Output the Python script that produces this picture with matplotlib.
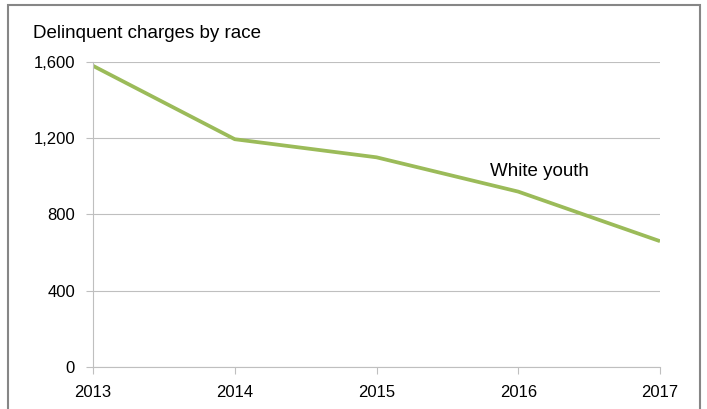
import matplotlib.pyplot as plt
from matplotlib.patches import Rectangle
from matplotlib.ticker import FuncFormatter

years = [2013, 2014, 2015, 2016, 2017]
white_youth = [1580, 1195, 1100, 920, 660]
y_ticks = [0, 400, 800, 1200, 1600]

plt.rcParams['font.family'] = ['Liberation Sans', 'DejaVu Sans']

fig = plt.figure(figsize=(7.07, 4.09), dpi=100)
ax = fig.add_axes([93 / 707, 42 / 409, 567 / 707, 305 / 409])

# outer chart frame
fig.patches.append(Rectangle((8 / 707, -0.05), 692 / 707, 1.05 - 5 / 409,
                             transform=fig.transFigure, fill=False,
                             edgecolor='#868686', linewidth=1.5))

grid_c = '#BFBFBF'
ax.plot(years, white_youth, color='#9BBB59', linewidth=2.7, solid_capstyle='butt')
ax.text(2016.15, 1023, 'White youth', fontsize=13.5, ha='center', va='center', color='black')

ax.set_xlim(2013, 2017)
ax.set_ylim(0, 1600)
ax.set_xticks(years)
ax.set_yticks(y_ticks)
ax.yaxis.set_major_formatter(FuncFormatter(lambda v, p: f'{int(v):,}'))
ax.grid(axis='y', color=grid_c, linewidth=0.8)
ax.set_axisbelow(True)
for s in ['top', 'right']:
    ax.spines[s].set_visible(False)
for s in ['left', 'bottom']:
    ax.spines[s].set_color(grid_c)
    ax.spines[s].set_linewidth(0.8)
ax.tick_params(axis='both', colors=grid_c, labelcolor='black', labelsize=12,
               length=5, width=0.8)
ax.tick_params(axis='y', pad=8)
ax.tick_params(axis='x', pad=8)

fig.text(33 / 707, 1 - 33 / 409, 'Delinquent charges by race', fontsize=13.5,
         ha='left', va='center')

fig.savefig('out.png', dpi=100)
